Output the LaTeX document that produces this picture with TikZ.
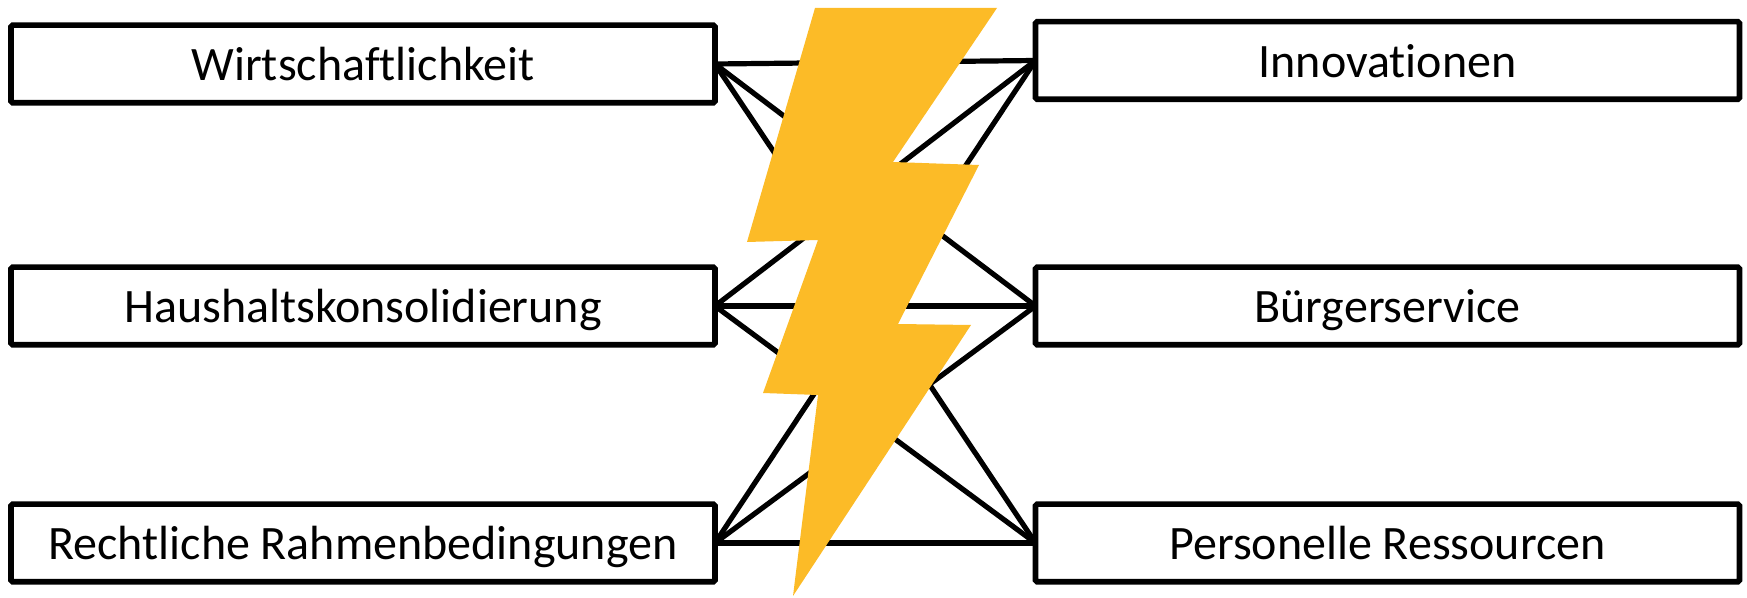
\documentclass[tikz,border=0pt]{standalone}
\usepackage{fontspec}
\setmainfont{Carlito}[Ligatures=NoCommon]
\definecolor{boltyellow}{RGB}{252,187,39}

\begin{document}
\begin{tikzpicture}[x=0.5pt, y=-0.5pt]
    \useasboundingbox (0,0) rectangle (1747,598);
    \begin{scope}[every node/.style={inner sep=0, outer sep=0}, mybox/.style={draw=black, fill=white, line width=2.8pt, rounded corners=0.8pt, minimum width=352pt, minimum height=38.8pt, text height=17pt, text depth=0pt, font=\fontsize{24}{28}\selectfont}, myline/.style={line width=2.6pt}, mybolt/.style={fill=boltyellow}]
        \node [mybox] (wirtschaft) at (363,64) {Wirtschaftlichkeit};
        \node [mybox] (haushalt) at (363,306) {Haushaltskonsolidierung};
        \node [mybox] (recht) at (363,543) {Rechtliche Rahmenbedingungen};
        \node [mybox] (innovation) at (1387.5,60.5) {Innovationen};
        \node [mybox] (buerger) at (1387.5,306) {Bürgerservice};
        \node [mybox] (personal) at (1387.5,543) {Personelle Ressourcen};
        \foreach \x in {wirtschaft,haushalt,recht} {
            \foreach \y in {innovation,buerger,personal} {\draw [myline] (\x.east) -- (\y.west);};
        };
        \fill [mybolt] (815,8) -- (997,8) -- (893,162) -- (979,165) -- (898,324) -- (971,325) -- (793,596) -- (818,395) -- (763,393) -- (818,240) -- (747,242) -- cycle;
    \end{scope}
\end{tikzpicture}
\end{document}
